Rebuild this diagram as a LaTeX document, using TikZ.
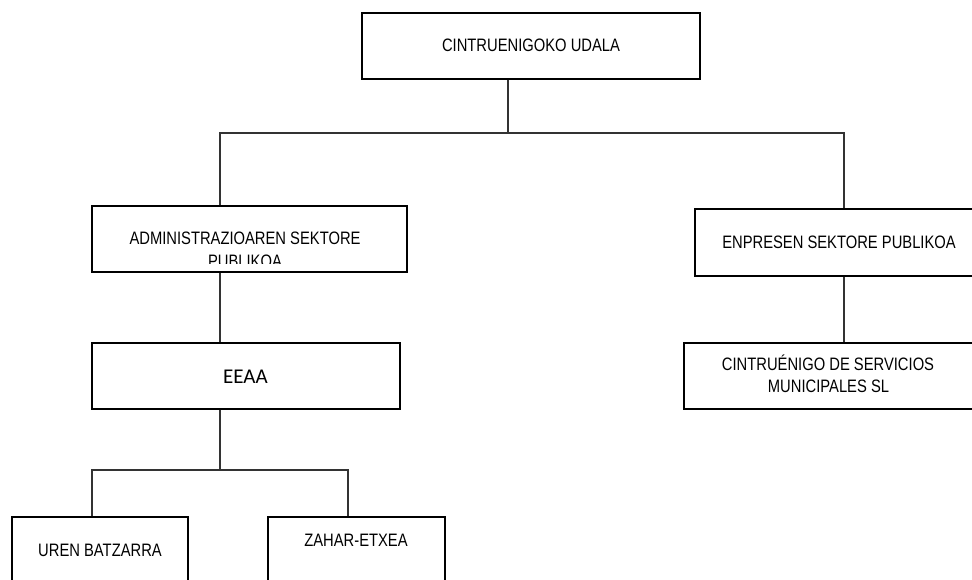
\documentclass[tikz,border=0pt]{standalone}
\usepackage{fontspec}
\setmainfont[FakeStretch=0.82]{Liberation Sans}
\newfontfamily\calib{Carlito}
\begin{document}
\begin{tikzpicture}[x=1pt,y=-1pt,
  box/.style={draw=black, line width=1.1pt, fill=white, inner sep=0pt},
  lbl/.style={anchor=base, inner sep=0pt, font=\fontsize{18}{21}\selectfont},
  conn/.style={draw=black!80, line width=1.1pt}]
\useasboundingbox (0,0) rectangle (972,580);
\clip (0,0) rectangle (972,580);
\fill[white] (0,0) rectangle (972,580);
% boxes
\node[box, minimum width=338pt, minimum height=66pt] (udala) at (531,46) {};
\node[box, minimum width=315pt, minimum height=66pt] (admin) at (249.5,239) {};
\node[box, minimum width=308pt, minimum height=66pt] (eeaa) at (246,376) {};
\node[box, minimum width=176pt, minimum height=68pt] (uren) at (100,551) {};
\node[box, minimum width=177pt, minimum height=68pt] (zahar) at (356.5,551) {};
\node[box, minimum width=290pt, minimum height=67pt] (enp) at (840,242.5) {};
\node[box, minimum width=291pt, minimum height=66pt] (cint) at (829.5,376) {};
% connector points
\coordinate (j0) at (508,133);
\coordinate (l1) at (220,133);
\coordinate (r1) at (844,133);
\coordinate (e1) at (220,470);
\coordinate (b1) at (92,470);
\coordinate (b2) at (348,470);
% connectors
\draw[conn] (udala.south -| j0) -- (j0);
\draw[conn] (admin.north -| l1) -- (l1) -- (r1) -- (enp.north -| r1);
\draw[conn] (admin.south -| l1) -- (eeaa.north -| l1);
\draw[conn] (eeaa.south -| e1) -- (e1);
\draw[conn] (uren.north -| b1) -- (b1) -- (b2) -- (zahar.north -| b2);
\draw[conn] (enp.south -| r1) -- (cint.north -| r1);
% texts
\node[lbl] (tudala) at (531,51.5) {CINTRUENIGOKO UDALA};
\begin{scope}
\clip (92,206) rectangle (407,263);
\node[lbl] (tadmin1) at (245,245) {ADMINISTRAZIOAREN SEKTORE};
\node[lbl] (tadmin2) at (245,267) {PUBLIKOA};
\end{scope}
\node[anchor=base, inner sep=0pt, font=\calib\fontsize{21}{24}\selectfont] (teeaa) at (245.5,383) {EEAA};
\node[lbl] (turen) at (100,556) {UREN BATZARRA};
\node[lbl] (tzahar) at (356,546) {ZAHAR-ETXEA};
\node[lbl] (tenp) at (839,248.5) {ENPRESEN SEKTORE PUBLIKOA};
\node[lbl] (tcint1) at (828,370) {CINTRUÉNIGO DE SERVICIOS};
\node[lbl] (tcint2) at (828.5,392) {MUNICIPALES SL};
\end{tikzpicture}
\end{document}
